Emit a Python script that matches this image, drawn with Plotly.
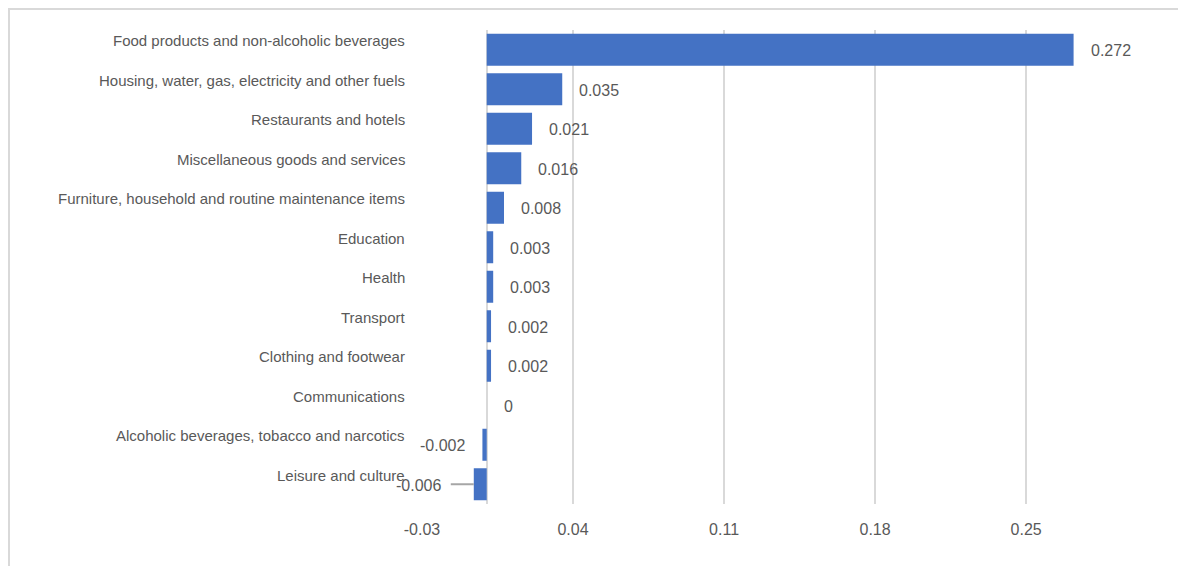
import plotly.graph_objects as go

categories = [
    "Food products and non-alcoholic beverages",
    "Housing, water, gas, electricity and other fuels",
    "Restaurants and hotels",
    "Miscellaneous goods and services",
    "Furniture, household and routine maintenance items",
    "Education",
    "Health",
    "Transport",
    "Clothing and footwear",
    "Communications",
    "Alcoholic beverages, tobacco and narcotics",
    "Leisure and culture",
]
values = [0.272, 0.035, 0.021, 0.016, 0.008, 0.003, 0.003, 0.002, 0.002, 0.0, -0.002, -0.006]
labels = ["0.272", "0.035", "0.021", "0.016", "0.008", "0.003", "0.003", "0.002", "0.002", "0", "-0.002", "-0.006"]
tick_vals = [-0.03, 0.04, 0.11, 0.18, 0.25]
tick_text = ["-0.03", "0.04", "0.11", "0.18", "0.25"]

GRAY = "#595959"
FONT = "Liberation Sans, Arial, sans-serif"

W, H = 1178, 558
ML, MR, MT, MB = 414, 52, 22, 62
PW, PH = W - ML - MR, H - MT - MB

fig = go.Figure()
fig.add_trace(go.Bar(
    y=categories, x=values, orientation="h",
    marker=dict(color="#4472C4", line=dict(width=0)),
    hoverinfo="x+y",
))

annotations = []
shapes = []
for cat, v, lab in zip(categories, values, labels):
    annotations.append(dict(
        x=0, xref="paper", y=cat, yref="y", text=cat, showarrow=False,
        xanchor="right", yanchor="middle", xshift=-15, yshift=9,
        font=dict(family=FONT, size=15, color=GRAY),
    ))
    if v >= 0:
        annotations.append(dict(
            x=v, xref="x", y=cat, yref="y", text=lab, showarrow=False,
            xanchor="left", yanchor="middle", xshift=15, yshift=-1,
            font=dict(family=FONT, size=16, color=GRAY),
        ))
    elif v > -0.004:
        annotations.append(dict(
            x=v, xref="x", y=cat, yref="y", text=lab, showarrow=False,
            xanchor="right", yanchor="middle", xshift=-15, yshift=-1,
            font=dict(family=FONT, size=16, color=GRAY),
        ))
    else:
        annotations.append(dict(
            x=v, xref="x", y=cat, yref="y", text=lab, showarrow=False,
            xanchor="right", yanchor="middle", xshift=-31, yshift=-1,
            font=dict(family=FONT, size=16, color=GRAY),
        ))
        shapes.append(dict(
            type="line", xref="x", yref="y", xsizemode="pixel", xanchor=v,
            x0=-23, x1=0, y0=cat, y1=cat,
            line=dict(color="#A6A6A6", width=2),
        ))

# outer chart border (left/top visible)
shapes.append(dict(
    type="rect", xref="paper", yref="paper",
    x0=(1 - ML) / PW, x1=(W + 20 - ML) / PW,
    y0=-(MB + 20) / PH, y1=1 + (MT - 1) / PH,
    line=dict(color="#D9D9D9", width=2), layer="below",
))

fig.update_layout(
    width=W, height=H,
    margin=dict(l=ML, r=MR, t=MT, b=MB),
    paper_bgcolor="white", plot_bgcolor="white",
    showlegend=False, bargap=0.19,
    font=dict(family=FONT, color=GRAY),
    annotations=annotations,
    shapes=shapes,
    xaxis=dict(
        range=[-0.03, 0.30], tickvals=tick_vals, ticktext=tick_text,
        showgrid=True, gridcolor="#D9D9D9", gridwidth=2,
        zeroline=True, zerolinecolor="#D9D9D9", zerolinewidth=2,
        showline=False, ticks="", ticklabelstandoff=14,
        tickfont=dict(family=FONT, size=16, color=GRAY),
    ),
    yaxis=dict(
        categoryorder="array", categoryarray=categories, autorange="reversed",
        showticklabels=False, showgrid=False, zeroline=False, showline=False,
    ),
)

fig.write_html("out.html")
